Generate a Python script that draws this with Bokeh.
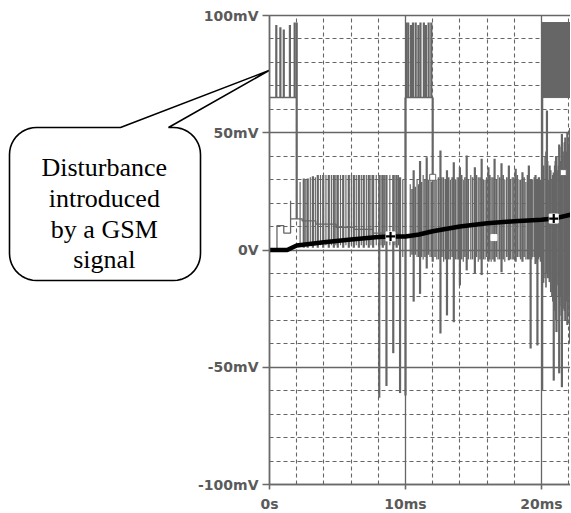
import numpy as np
from bokeh.plotting import figure
from bokeh.models import FixedTicker, Range1d, Grid
from bokeh.core.properties import value
from bokeh.embed import file_html
from bokeh.resources import INLINE

# ---------------- data (time in ms, voltage in mV) ----------------
x_ticks = [0, 10, 20]
x_tick_labels = ["0s", "10ms", "20ms"]
x_minor_ticks = [2, 4, 6, 8, 12, 14, 16, 18, 22]
y_ticks = [-100, -50, 0, 50, 100]
y_tick_labels = ["-100mV", "-50mV", "0V", "50mV", "100mV"]
y_minor_ticks = [-90, -80, -70, -60, -40, -30, -20, -10, 10, 20, 30, 40, 60, 70, 80, 90]

# filtered output (thick black trace)
avg_t = [0.0, 1.3, 2.0, 4.0, 6.0, 8.0, 8.9, 10.0, 11.0, 12.0, 14.0, 16.0, 18.0, 20.0, 20.9, 22.2]
avg_v = [0.0, 0.0, 1.9, 3.3, 4.5, 5.5, 5.8, 5.8, 6.6, 8.0, 10.0, 11.4, 12.3, 12.9, 13.4, 15.1]
avg_mark_t = [8.9, 20.9]
avg_mark_v = [5.8, 13.4]

# raw input: GSM bursts (upper level)
gsm_floor = 65.0
gsm_peak = 97.0
burst_start = [0.0, 10.0]
burst_end = [2.0, 12.0]
dense_burst_start = [20.05]
dense_burst_end = [22.21]
tone_t = [0.5, 0.8, 1.05, 1.5, 1.85, 10.05, 10.2, 10.4, 10.55, 10.75, 10.95, 11.1, 11.35, 11.5, 11.7, 11.9]
tone_hi = [96, 95, 94, 96, 97, 97, 97, 96, 97, 97, 96, 97, 97, 96, 97, 97]

# raw input: decaying step level before the spikes
stair_t = [0.55, 0.55, 1.05, 1.05, 1.55, 1.55, 1.55, 2.4, 2.4, 3.4, 3.4, 4.9, 4.9, 6.2, 6.2, 7.6, 7.6, 9.6]
stair_v = [0.0, 10.4, 10.4, 7.2, 7.2, 21.0, 13.3, 13.3, 12.4, 12.4, 11.0, 11.0, 9.7, 9.7, 8.8, 8.8, 7.2, 7.2]

# raw input: main spikes (t, top, bottom)
spike_t = [2.0, 2.52, 2.81, 3.19, 3.55, 3.95, 4.36, 4.73, 5.02, 5.42, 5.83, 6.2, 6.57, 6.93, 7.3, 7.62,
           8.07, 8.33, 8.6, 9.1, 9.35, 9.6, 10.0, 10.6, 11.07, 11.56, 12.0, 12.57, 13.05, 13.55, 14.0,
           14.5, 15.1, 15.6, 16.1, 16.55, 17.06, 17.6, 18.1, 18.6, 19.07, 19.2, 19.56, 19.7, 20.05,
           20.4, 20.6, 20.9, 21.1, 21.3, 21.5, 21.75, 21.9, 22.1]
spike_hi = [97, 30.5, 30.5, 31.5, 32, 32, 32, 32, 32, 32, 32, 32, 32, 32, 32, 32,
            32, 32, 32, 32, 32, 31, 65, 34, 38, 39.6, 65, 42.4, 34, 37.4, 35.3,
            40.3, 35.3, 38.9, 35.3, 38.9, 37, 36, 34.6, 33.2, 36, 30, 32, 30, 97,
            59.5, 36, 33, 40, 45, 49.5, 48, 50.2, 52]
spike_lo = [13.3, 1, 1, 1, 1, 1, 1, 1, 1, 1, 1, 1, 1, 1, 1, 1,
            -63, 1, -58, -44, 1, -61, -62, -22, -18.7, -7.9, -5, -35.6, -27.9, -30.8, -15.1,
            -8.7, -9.8, -10.7, -5, -5, -9.5, -4.4, -5, -5, -4, -42, -6, -40.7, -60,
            -10, -13.7, -55.7, -35, -52.6, -58.5, -30, -32, -40]

# raw input: thinner in-between spikes
thin_t = [2.25, 2.67, 3.0, 3.37, 3.75, 4.15, 4.55, 4.88, 5.22, 5.62, 6.02, 6.38, 6.75, 7.12, 7.46, 7.85,
          8.2, 8.47, 8.85, 9.22, 9.48, 9.8, 10.35, 10.85, 11.3, 11.8, 12.3, 12.8, 13.3, 13.8, 14.25,
          14.8, 15.35, 15.85, 16.3, 16.8, 17.3, 17.85, 18.35, 18.85, 19.35, 19.85, 20.25, 20.5, 20.75,
          21.0, 21.2, 21.4, 21.6, 22.0]
thin_hi = [29, 30, 31, 31, 32, 32, 32, 32, 32, 32, 32, 32, 32, 32, 32, 32,
           32, 32, 32, 32, 32, 30, 28, 30, 32, 31, 30, 31, 30, 31, 30,
           32, 31, 30, 31, 32, 30, 31, 30, 29, 30, 31, 40, 30, 30,
           38, 34, 38, 42, 45]
thin_lo = [2, 2, 2, 2, 2, 2, 2, 2, 2, 2, 2, 2, 2, 2, 2, 2,
           2, 2, 2, 2, 2, -3, -3, -3, -4, -3, -4, -5, -4, -4, -5,
           -4, -5, -4, -5, -4, -5, -4, -3, -4, -3, -3, -12, -12, -20,
           -25, -15, -20, -25, -20]

# raw input: dense short oscillation lines (second half)
mid_t = [10.48, 10.72, 10.97, 11.18, 11.43, 11.68, 11.92, 12.17, 12.43, 12.68, 12.93, 13.18, 13.43,
         13.68, 13.92, 14.13, 14.37, 14.62, 14.93, 15.22, 15.48, 15.72, 15.97, 16.2, 16.43, 16.68,
         16.93, 17.18, 17.45, 17.72, 17.97, 18.22, 18.47, 18.72, 18.97, 19.27, 19.47, 19.62, 19.78,
         19.93, 20.15, 20.33, 20.45, 20.68, 20.83, 20.97, 21.05, 21.25, 21.35, 21.45, 21.55, 21.68,
         21.82, 21.95, 22.05, 22.15]
mid_hi = [26, 27, 28, 29, 30, 30, 29, 30, 31, 31, 30, 31, 31, 30, 31, 32, 31, 30, 31, 32, 31, 30, 31,
          32, 31, 30, 31, 32, 31, 30, 31, 32, 30, 31, 32, 30, 31, 30, 31, 30, 36, 42, 38, 34, 32, 36,
          40, 36, 38, 44, 40, 46, 42, 48, 40, 46]
mid_lo = [-2, -2, -3, -3, -3, -2, -3, -3, -4, -3, -4, -4, -3, -4, -4, -4, -3, -4, -4, -3, -4, -4, -3,
          -4, -4, -3, -4, -4, -3, -4, -4, -3, -4, -3, -4, -4, -3, -5, -4, -5, -14, -16, -12, -18,
          -22, -26, -30, -20, -28, -24, -30, -26, -22, -28, -24, -30]

# trace symbols on the raw signal
sym_t = [12.0, 21.6]
sym_v = [31.0, 33.0]
sym2_t = [16.5]
sym2_v = [5.3]

callout_lines = ["Disturbance", "introduced", "by a GSM", "signal"]

# ---------------- layout (page pixels; canvas at page origin) ----------------
W, H = 570, 512
X0_PAGE, Y0_PAGE = 269.0, 249.5       # page position of (0 ms, 0 mV)
PX_MS, PX_MV = 13.6, 2.345
x_start = (0 - X0_PAGE) / PX_MS
x_end = (W - X0_PAGE) / PX_MS
y_end = (Y0_PAGE - 0) / PX_MV
y_start = (Y0_PAGE - H) / PX_MV


def px2x(px):
    return (px - X0_PAGE) / PX_MS


def py2y(py):
    return (Y0_PAGE - py) / PX_MV


p = figure(width=W, height=H, x_range=Range1d(x_start, x_end), y_range=Range1d(y_start, y_end),
           output_backend="svg", toolbar_location=None, min_border=0,
           outline_line_color=None, background_fill_color="white", border_fill_color="white")

GRID = "#666666"
AX = "#6a6a6a"
LBL = "#5a5a5a"

# axes
p.xaxis.fixed_location = -100
p.yaxis.fixed_location = 0
p.xaxis.bounds = (0, x_end)
p.yaxis.bounds = (-100, 100)
p.xaxis.ticker = FixedTicker(ticks=x_ticks, minor_ticks=x_minor_ticks)
p.yaxis.ticker = FixedTicker(ticks=y_ticks, minor_ticks=y_minor_ticks)
p.xaxis.major_label_overrides = {t: s for t, s in zip(x_ticks, x_tick_labels)}
p.yaxis.major_label_overrides = {t: s for t, s in zip(y_ticks, y_tick_labels)}
for ax in (p.xaxis, p.yaxis):
    ax.axis_line_color = AX
    ax.axis_line_width = 1.6
    ax.major_tick_line_color = AX
    ax.major_tick_line_width = 1.6
    ax.major_tick_in = 0
    ax.minor_tick_line_color = None
    ax.major_label_text_font = "DejaVu Sans"
    ax.major_label_text_font_style = "bold"
    ax.major_label_text_font_size = "14px"
    ax.major_label_text_color = LBL
p.xaxis.major_tick_out = 5
p.xaxis.major_label_standoff = 6
p.yaxis.major_tick_out = 7
p.yaxis.major_label_standoff = 4

# grids
p.xgrid.ticker = FixedTicker(ticks=x_ticks, minor_ticks=x_minor_ticks)
p.ygrid.ticker = FixedTicker(ticks=y_ticks, minor_ticks=y_minor_ticks)
if "cross_bounds" in Grid.properties():
    p.xgrid.bounds = (0, x_end)
    p.xgrid.cross_bounds = (-100, 100)
    p.ygrid.bounds = (-100, 100)
    p.ygrid.cross_bounds = (0, x_end)
    for g in (p.xgrid, p.ygrid):
        g.grid_line_color = GRID
        g.grid_line_width = 1.3
        g.minor_grid_line_color = GRID
        g.minor_grid_line_width = 1.1
        g.minor_grid_line_dash = "4 3"
else:
    p.xgrid.visible = False
    p.ygrid.visible = False
    p.segment(x0=x_ticks, x1=x_ticks, y0=-100, y1=100, line_color=GRID, line_width=1.3)
    p.segment(x0=x_minor_ticks, x1=x_minor_ticks, y0=-100, y1=100, line_color=GRID, line_width=1.1,
              line_dash="4 3")
    p.segment(x0=0, x1=x_end, y0=y_ticks, y1=y_ticks, line_color=GRID, line_width=1.3)
    p.segment(x0=0, x1=x_end, y0=y_minor_ticks, y1=y_minor_ticks, line_color=GRID, line_width=1.1,
              line_dash="4 3")

SIG = "#666666"
# GSM bursts
p.segment(x0=burst_start, x1=burst_end, y0=gsm_floor, y1=gsm_floor, line_color=SIG, line_width=1.5)
p.segment(x0=tone_t, x1=tone_t, y0=gsm_floor, y1=tone_hi, line_color=SIG, line_width=2.2)
p.quad(left=dense_burst_start, right=dense_burst_end, bottom=gsm_floor, top=gsm_peak,
       fill_color=SIG, line_color=SIG)
# lower signal
p.line(stair_t, stair_v, line_color=SIG, line_width=1.3)
p.segment(x0=mid_t, x1=mid_t, y0=mid_lo, y1=mid_hi, line_color=SIG, line_width=1.6)
p.segment(x0=thin_t, x1=thin_t, y0=thin_lo, y1=thin_hi, line_color=SIG, line_width=1.2)
p.segment(x0=spike_t, x1=spike_t, y0=spike_lo, y1=spike_hi, line_color=SIG, line_width=2.2)
p.scatter(sym_t, sym_v, marker="square", size=6, fill_color="white", line_color=SIG, line_width=1)
p.scatter(sym2_t, sym2_v, marker="square", size=6, fill_color="white", line_color="white")

# filtered trace
p.line(avg_t, avg_v, line_color="black", line_width=4.5)
p.scatter(avg_mark_t, avg_mark_v, marker="square", size=9, fill_color="white", line_color="white")
p.scatter(avg_mark_t, avg_mark_v, marker="cross", size=9, line_color="black", line_width=2.2)

# callout bubble (pixel layout converted to data space)
L, R, T, B, r = 9.0, 200.0, 127.0, 280.0, 27.0
base_l, base_r = 120.0, 168.0
tip = (268.5, 70.0)


def arc(cx, cy, a0, a1, n=12):
    a = np.radians(np.linspace(a0, a1, n))
    return list(cx + r * np.cos(a)), list(cy + r * np.sin(a))


pxs, pys = [], []
ax_, ay_ = arc(L + r, T + r, 180, 270)
pxs += ax_; pys += ay_
pxs += [base_l, tip[0], base_r]
pys += [T, tip[1], T]
for cx, cy, a0, a1 in [(R - r, T + r, 270, 360), (R - r, B - r, 0, 90), (L + r, B - r, 90, 180)]:
    ax_, ay_ = arc(cx, cy, a0, a1)
    pxs += ax_; pys += ay_
p.patch([px2x(v) for v in pxs], [py2y(v) for v in pys], fill_color="white", line_color="black",
        line_width=1.6)

text_x = [px2x(103.8)] * len(callout_lines)
text_y = [py2y(v) for v in (167.3, 198.0, 228.6, 259.2)]
p.text(x=text_x, y=text_y, text=callout_lines, text_font=value("Liberation Serif"),
       text_font_size="26px", text_align="center", text_baseline="alphabetic", text_color="black")

open("out.html", "w").write(file_html(p, INLINE))
